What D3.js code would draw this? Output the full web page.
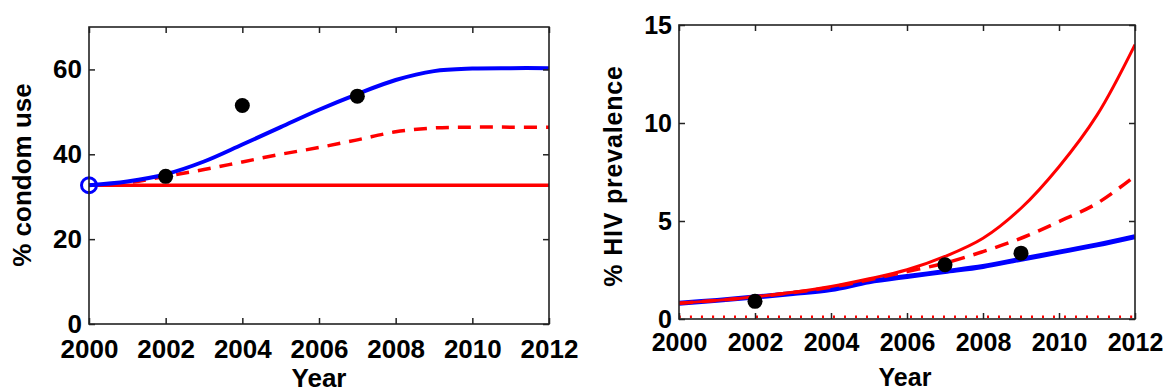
<!DOCTYPE html>
<html><head><meta charset="utf-8">
<script src="https://cdn.jsdelivr.net/npm/d3@7"></script>
<style>
html,body{margin:0;padding:0;background:#fff;}
svg{display:block;}
text{font-family:"Liberation Sans",Arial,sans-serif;font-weight:bold;fill:#000;}
</style></head>
<body>
<svg id="c" width="1163" height="392"></svg>
<script>
// ---- Data ----
const years = [2000,2001,2002,2003,2004,2005,2006,2007,2008,2009,2010,2011,2012];
const xTicks = [2000,2002,2004,2006,2008,2010,2012];

// Left panel: % condom use
const condomBlue     = [32.7,33.6,35.3,38.3,42.3,46.4,50.5,54.2,57.5,59.6,60.2,60.3,60.3];
const condomRedDash  = [32.7,33.3,34.8,36.4,38.2,40.0,41.6,43.4,45.3,46.2,46.4,46.4,46.4];
const condomRedSolid = [32.7,32.7,32.7,32.7,32.7,32.7,32.7,32.7,32.7,32.7,32.7,32.7,32.7];
const condomObsYears = [2002,2004,2007];
const condomObs      = [34.8,51.5,53.7];
const condomStart    = [2000,32.7];
const condomYTicks   = [0,20,40,60];

// Right panel: % HIV prevalence
const hivBlue     = [0.8,0.95,1.12,1.3,1.5,1.9,2.17,2.42,2.68,3.05,3.41,3.78,4.2];
const hivRedDash  = [0.8,0.95,1.13,1.35,1.62,2.0,2.42,2.85,3.44,4.12,4.97,5.9,7.3];
const hivRedSolid = [0.8,0.95,1.14,1.37,1.66,2.05,2.51,3.19,4.12,5.65,7.77,10.4,14.0];
const hivRedZero  = [0.12,0.12,0.12,0.12,0.12,0.12,0.12,0.12,0.12,0.12,0.12,0.12,0.12];
const hivObsYears = [2002,2007,2009];
const hivObs      = [0.9,2.77,3.36];
const hivYTicks   = [0,5,10,15];

const svg = d3.select("#c");

function panel(opt){
  const {x0,x1,y0,y1,ymax,yTicks,ylabel,ylabelX,ylabelY,yearX,yearY,series,obsX,obsY,open,fs,lfs,ls,xpad} = opt;
  const x = d3.scaleLinear().domain([2000,2012]).range([x0,x1]);
  const y = d3.scaleLinear().domain([0,ymax]).range([y1,y0]);
  const g = svg.append("g");
  const line = d3.line().x((d,i)=>x(years[i])).y(d=>y(d)).curve(d3.curveCatmullRom.alpha(0.5));
  const clip = "clip"+x0;
  svg.append("clipPath").attr("id",clip).append("rect").attr("x",x0).attr("y",y0).attr("width",x1-x0).attr("height",y1-y0+3);
  const lg = g.append("g").attr("clip-path",`url(#${clip})`);
  series.forEach(s=>{
    lg.append("path").attr("d",line(s.v)).attr("fill","none")
      .attr("stroke",s.c).attr("stroke-width",s.w)
      .attr("stroke-dasharray",s.dash||null).attr("stroke-linecap",s.cap||"butt");
  });
  obsX.forEach((yr,i)=>{
    g.append("circle").attr("cx",x(yr)).attr("cy",y(obsY[i])).attr("r",7.5).attr("fill","#000");
  });
  if(open){
    g.append("circle").attr("cx",x(open[0])).attr("cy",y(open[1])).attr("r",7.5)
      .attr("fill","none").attr("stroke","#0000ff").attr("stroke-width",3);
  }
  // axes (ticks inside)
  const ax = g.append("g");
  ax.append("g").attr("transform",`translate(0,${y1})`)
    .call(d3.axisBottom(x).tickValues(xTicks).tickFormat(d3.format("d")).tickSizeInner(-6).tickSizeOuter(0).tickPadding(xpad));
  ax.append("g").attr("transform",`translate(0,${y0})`)
    .call(d3.axisTop(x).tickValues(xTicks).tickFormat("").tickSizeInner(-6).tickSizeOuter(0));
  ax.append("g").attr("transform",`translate(${x0},0)`)
    .call(d3.axisLeft(y).tickValues(yTicks).tickSizeInner(-6).tickSizeOuter(0).tickPadding(7));
  ax.append("g").attr("transform",`translate(${x1},0)`)
    .call(d3.axisRight(y).tickValues(yTicks).tickFormat("").tickSizeInner(-6).tickSizeOuter(0));
  ax.selectAll(".domain").remove();
  ax.selectAll(".tick line").attr("stroke","#222").attr("stroke-width",1.5);
  ax.selectAll(".tick text").style("font-size",fs+"px").style("font-family","'Liberation Sans',Arial,sans-serif").style("font-weight","bold").attr("fill","#000");
  g.append("rect").attr("x",x0).attr("y",y0).attr("width",x1-x0).attr("height",y1-y0)
    .attr("fill","none").attr("stroke","#222").attr("stroke-width",1.6);
  g.append("text").attr("transform",`translate(${ylabelX},${ylabelY}) rotate(-90)`)
    .attr("text-anchor","middle").attr("dominant-baseline","middle")
    .style("font-size",lfs+"px").style("letter-spacing",ls+"px").text(ylabel);
  g.append("text").attr("x",yearX).attr("y",yearY).attr("text-anchor","middle").style("font-size",fs+"px").text("Year");
}

panel({x0:89,x1:549,y0:27,y1:324,ymax:70,yTicks:condomYTicks,ylabel:"% condom use",
  ylabelX:24,ylabelY:175,yearX:319,yearY:387,fs:26,lfs:26,ls:0,xpad:16,
  series:[
    {v:condomRedSolid,c:"#ff0000",w:3.5},
    {v:condomRedDash,c:"#ff0000",w:3.5,dash:"13,9"},
    {v:condomBlue,c:"#0000ff",w:4}
  ],
  obsX:condomObsYears,obsY:condomObs,open:condomStart});

panel({x0:679,x1:1135,y0:25,y1:319,ymax:15,yTicks:hivYTicks,ylabel:"% HIV prevalence",
  ylabelX:615,ylabelY:176,yearX:905,yearY:386,fs:25,lfs:25,ls:0.8,xpad:14,
  series:[
    {v:hivRedZero,c:"#ff0000",w:2.5,dash:"2,9"},
    {v:hivBlue,c:"#0000ff",w:5},
    {v:hivRedDash,c:"#ff0000",w:3.5,dash:"14,9"},
    {v:hivRedSolid,c:"#ff0000",w:3}
  ],
  obsX:hivObsYears,obsY:hivObs,open:null});
</script>
</body></html>
